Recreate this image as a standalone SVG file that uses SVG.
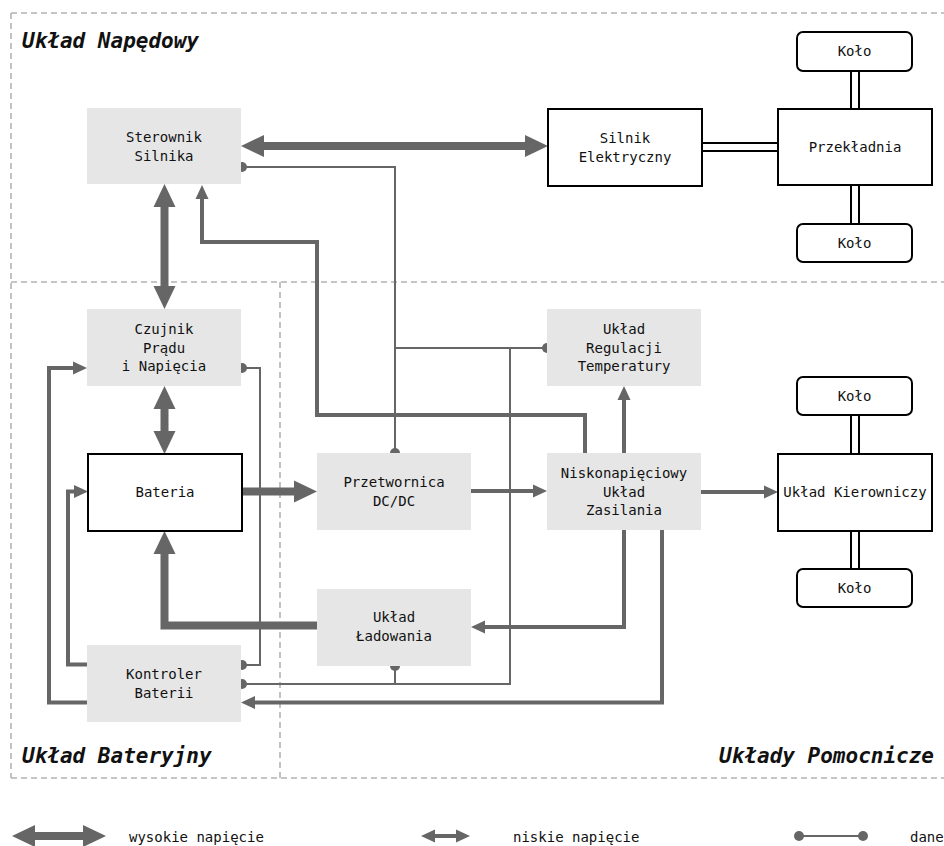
<svg xmlns="http://www.w3.org/2000/svg" width="944" height="846" viewBox="0 0 944 846">
  <defs>
    <style>
      text { font-family: "DejaVu Sans Mono", "Liberation Mono", monospace; font-size: 14px; fill: #111; text-anchor: middle; }
      .title { font-size: 21px; font-weight: bold; font-style: italic; text-anchor: start; }
      .legend { text-anchor: start; }
      .zone { fill: none; stroke: #b3b3b3; stroke-width: 1.6; stroke-dasharray: 6 4; }
      .ctl { fill: #e6e6e6; stroke: none; }
      .mech { fill: #fff; stroke: #000; stroke-width: 2; }
      .hv { fill: none; stroke: #666; stroke-width: 8; marker-start: url(#hvHead); marker-end: url(#hvHead); }
      .hv1 { fill: none; stroke: #666; stroke-width: 8; marker-end: url(#hvHead); }
      .lv { fill: none; stroke: #666; stroke-width: 4; marker-end: url(#lvHead); }
      .lv2 { fill: none; stroke: #666; stroke-width: 4; marker-start: url(#lvHead); marker-end: url(#lvHead); }
      .data { fill: none; stroke: #666; stroke-width: 2; }
      .shaftOut { fill: none; stroke: #000; stroke-width: 10; }
      .shaftIn { fill: none; stroke: #fff; stroke-width: 6; }
    </style>
    <marker id="hvHead" markerUnits="userSpaceOnUse" markerWidth="24" markerHeight="24" refX="0" refY="11" orient="auto-start-reverse" overflow="visible">
      <path d="M0,0 L23,11 L0,22 z" fill="#666"/>
    </marker>
    <marker id="lvHead" markerUnits="userSpaceOnUse" markerWidth="14" markerHeight="14" refX="0" refY="6.5" orient="auto-start-reverse" overflow="visible">
      <path d="M0,0 L14,6.5 L0,13 z" fill="#666"/>
    </marker>
    <marker id="dot" markerUnits="userSpaceOnUse" markerWidth="10" markerHeight="10" refX="5" refY="5" overflow="visible">
      <circle cx="5" cy="5" r="5" fill="#666"/>
    </marker>
  </defs>

  <rect width="944" height="846" fill="#fff"/>

  <!-- subsystem zones -->
  <g id="zones">
    <path class="zone" d="M11,13 H944 M11,13 V778 M11,282 H944 M280,282 V778 M11,778 H944"/>
    <text class="title" x="22" y="48">Układ Napędowy</text>
    <text class="title" x="22" y="763">Układ Bateryjny</text>
    <text class="title" x="934" y="763" style="text-anchor:end">Układy Pomocnicze</text>
  </g>

  <!-- mechanical shafts -->
  <g id="shafts">
    <path class="shaftOut" d="M702,147 H778 M855,71 V109 M855,185 V224 M855,415 V454 M855,531 V569"/>
    <path class="shaftIn" d="M701,147 H779 M855,70 V110 M855,184 V225 M855,414 V455 M855,530 V570"/>
  </g>

  <!-- connectors -->
  <g id="connectors">
    <!-- high voltage -->
    <path class="hv" d="M264,146 H525"/>
    <path class="hv" d="M164.5,207 V286"/>
    <path class="hv" d="M164.5,409 V431"/>
    <path class="hv1" d="M242,491.5 H294"/>
    <path class="hv1" d="M317,625.5 H164.5 V554"/>
    <!-- low voltage -->
    <path class="lv" d="M471,491 H533"/>
    <path class="lv" d="M624,453 V400"/>
    <path class="lv" d="M701,492 H764"/>
    <path class="lv" d="M585,453 V415 H317 V242 H202 V199"/>
    <path class="lv" d="M624,530 V627 H485"/>
    <path class="lv" d="M662,530 V702.5 H255"/>
    <path class="lv" d="M87,702.5 H49 V368 H73"/>
    <path class="lv" d="M87,664.5 H68 V491.5 H74"/>
    <!-- data -->
    <path class="data" d="M242,167 H395 V453" marker-start="url(#dot)" marker-end="url(#dot)"/>
    <path class="data" d="M395,348 H547" marker-end="url(#dot)"/>
    <path class="data" d="M510,348 V684 H242" marker-end="url(#dot)"/>
    <path class="data" d="M395,666 V684" marker-start="url(#dot)"/>
    <path class="data" d="M242,368 H260 V665 H242" marker-start="url(#dot)" marker-end="url(#dot)"/>
  </g>

  <!-- nodes -->
  <g id="sterownik">
    <rect class="ctl" x="87" y="108" width="154" height="76"/>
    <text x="164" y="142">Sterownik</text>
    <text x="164" y="161">Silnika</text>
  </g>
  <g id="silnik">
    <rect class="mech" x="548" y="109" width="154" height="77"/>
    <text x="625" y="143">Silnik</text>
    <text x="625" y="162">Elektryczny</text>
  </g>
  <g id="przekladnia">
    <rect class="mech" x="778" y="109" width="154" height="76"/>
    <text x="855" y="152">Przekładnia</text>
  </g>
  <g id="kolo1">
    <rect class="mech" x="797" y="32" width="115" height="39" rx="6"/>
    <text x="854.5" y="56">Koło</text>
  </g>
  <g id="kolo2">
    <rect class="mech" x="797" y="224" width="115" height="38" rx="6"/>
    <text x="854.5" y="248">Koło</text>
  </g>
  <g id="czujnik">
    <rect class="ctl" x="87" y="309" width="154" height="77"/>
    <text x="164" y="334">Czujnik</text>
    <text x="164" y="352.5">Prądu</text>
    <text x="164" y="371">i Napięcia</text>
  </g>
  <g id="bateria">
    <rect class="mech" x="88" y="454" width="154" height="77"/>
    <text x="165" y="497">Bateria</text>
  </g>
  <g id="przetwornica">
    <rect class="ctl" x="317" y="453" width="154" height="77"/>
    <text x="394" y="487">Przetwornica</text>
    <text x="394" y="506">DC/DC</text>
  </g>
  <g id="regulacja">
    <rect class="ctl" x="547" y="309" width="154" height="77"/>
    <text x="624" y="334">Układ</text>
    <text x="624" y="352.5">Regulacji</text>
    <text x="624" y="371">Temperatury</text>
  </g>
  <g id="niskonapieciowy">
    <rect class="ctl" x="547" y="453" width="154" height="77"/>
    <text x="624" y="478">Niskonapięciowy</text>
    <text x="624" y="496.5">Układ</text>
    <text x="624" y="515">Zasilania</text>
  </g>
  <g id="kierowniczy">
    <rect class="mech" x="778" y="454" width="154" height="77"/>
    <text x="855" y="497">Układ Kierowniczy</text>
  </g>
  <g id="kolo3">
    <rect class="mech" x="797" y="377" width="115" height="38" rx="6"/>
    <text x="854.5" y="401">Koło</text>
  </g>
  <g id="kolo4">
    <rect class="mech" x="797" y="569" width="115" height="38" rx="6"/>
    <text x="854.5" y="593">Koło</text>
  </g>
  <g id="ladowanie">
    <rect class="ctl" x="317" y="589" width="154" height="77"/>
    <text x="394" y="622">Układ</text>
    <text x="394" y="641">Ładowania</text>
  </g>
  <g id="kontroler">
    <rect class="ctl" x="87" y="645" width="154" height="77"/>
    <text x="164" y="679">Kontroler</text>
    <text x="164" y="698">Baterii</text>
  </g>

  <!-- legend -->
  <g id="legend">
    <path class="hv" d="M35,836 H83"/>
    <text class="legend" x="129" y="842">wysokie napięcie</text>
    <path class="lv2" d="M435,836 H456"/>
    <text class="legend" x="513" y="842">niskie napięcie</text>
    <path class="data" d="M799,836 H863" marker-start="url(#dot)" marker-end="url(#dot)"/>
    <text class="legend" x="910" y="842">dane</text>
  </g>
</svg>
